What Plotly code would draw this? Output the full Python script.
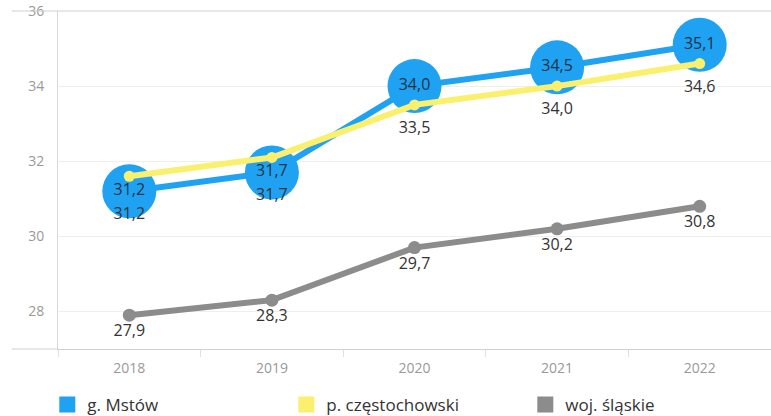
import plotly.graph_objects as go

years = ["2018", "2019", "2020", "2021", "2022"]

mstow = [31.2, 31.7, 34.0, 34.5, 35.1]
mstow_text = ["31,2", "31,7", "34,0", "34,5", "35,1"]

czest_line = [31.6, 32.1, 33.5, 34.0, 34.6]
czest_label = [31.2, 31.7, 33.5, 34.0, 34.6]
czest_text = ["31,2", "31,7", "33,5", "34,0", "34,6"]

slaskie = [27.9, 28.3, 29.7, 30.2, 30.8]
slaskie_text = ["27,9", "28,3", "29,7", "30,2", "30,8"]

BLUE = "#1FA2F2"
YELLOW = "#FAF06E"
GREY = "#8C8C8C"
FONT = "Open Sans"

fig = go.Figure()

# grey series
fig.add_trace(go.Scatter(
    x=years, y=slaskie, mode="lines+markers+text",
    line=dict(color=GREY, width=6), marker=dict(size=13, color=GREY),
    text=slaskie_text, textposition="bottom center",
    textfont=dict(size=16, color="#333333", family=FONT),
    showlegend=False, cliponaxis=False,
))

# blue series with big bubbles
fig.add_trace(go.Scatter(
    x=years, y=mstow, mode="lines+markers+text",
    line=dict(color=BLUE, width=6), marker=dict(size=54, color=BLUE),
    text=mstow_text, textposition="middle center",
    textfont=dict(size=16, color="#1f3347", family=FONT),
    showlegend=False, cliponaxis=False,
))

# yellow series line
fig.add_trace(go.Scatter(
    x=years, y=czest_line, mode="lines+markers",
    line=dict(color=YELLOW, width=6), marker=dict(size=11, color=YELLOW),
    showlegend=False, cliponaxis=False,
))

# yellow labels
fig.add_trace(go.Scatter(
    x=years, y=czest_label, mode="markers+text",
    marker=dict(size=24, color="rgba(0,0,0,0)"),
    text=czest_text, textposition="bottom center",
    textfont=dict(size=16, color="#333333", family=FONT),
    showlegend=False, cliponaxis=False, hoverinfo="skip",
))

# legend entries (square swatches)
for name, col in [("g. Mstów", BLUE), ("p. częstochowski", YELLOW), ("woj. śląskie", GREY)]:
    fig.add_trace(go.Scatter(
        x=[None], y=[None], mode="markers", name=name,
        marker=dict(symbol="square", size=20, color=col),
    ))

fig.update_layout(
    width=771, height=416,
    margin=dict(l=58, r=0, t=11, b=67, autoexpand=False),
    paper_bgcolor="white", plot_bgcolor="white",
    font=dict(family=FONT, color="#333333"),
    showlegend=True,
    legend=dict(
        orientation="h", x=-0.015, xanchor="left", y=-0.112, yanchor="top",
        font=dict(size=17, color="#333333", family=FONT),
        entrywidth=194, itemsizing="trace",
    ),
    xaxis=dict(
        type="category", showgrid=False, showline=True, linecolor="#d0d0d0",
        ticks="outside", tickson="boundaries", ticklen=7, tickcolor="#e0e0e0",
        ticklabelstandoff=6,
        tickfont=dict(size=14, color="#999999", family=FONT),
        range=[-0.5, 4.5],
    ),
    yaxis=dict(
        range=[27, 36], tickvals=[28, 30, 32, 34, 36],
        showgrid=True, gridcolor="#eeeeee", zeroline=False,
        showline=True, linecolor="#d8d8d8",
        ticks="", ticklabelstandoff=10,
        tickfont=dict(size=14, color="#999999", family=FONT),
    ),
    shapes=[
        dict(type="line", xref="paper", yref="paper", x0=-0.065, x1=1, y0=1, y1=1,
             line=dict(color="#d0d0d0", width=1)),
        dict(type="line", xref="paper", yref="paper", x0=-0.065, x1=0, y0=0, y1=0,
             line=dict(color="#d0d0d0", width=1)),
    ],
)

fig.write_html(
    "out.html",
    config={"displayModeBar": False},
    post_script="document.body.style.margin='0';document.body.style.overflow='hidden';",
)
